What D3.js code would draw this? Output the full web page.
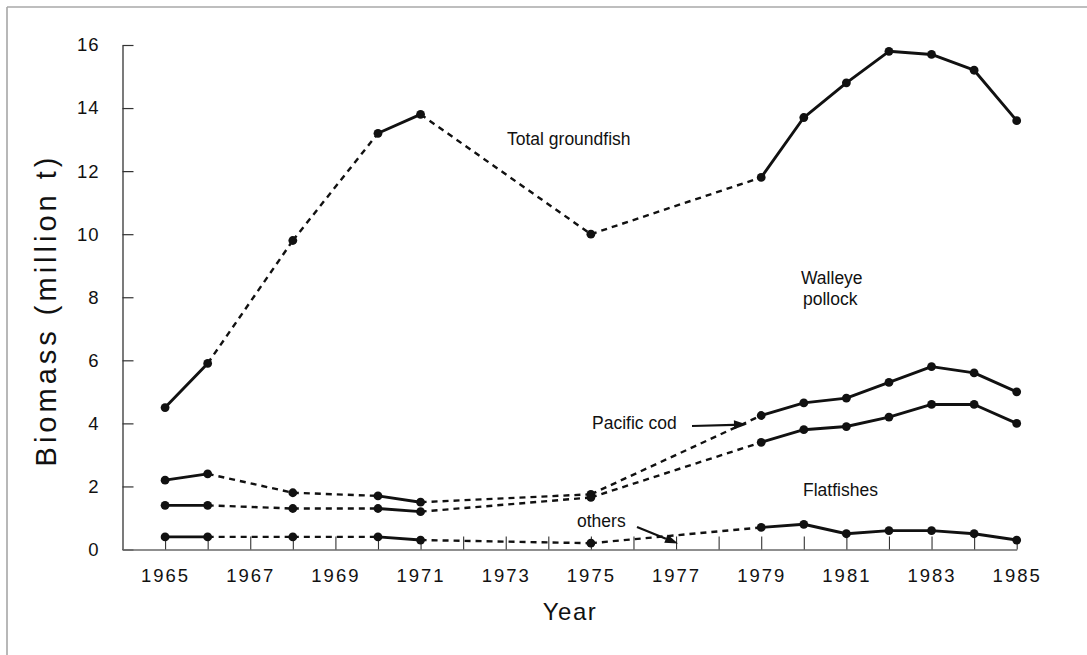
<!DOCTYPE html>
<html>
<head>
<meta charset="utf-8">
<script src="https://cdn.jsdelivr.net/npm/d3@7"></script>
<style>
  html, body { margin: 0; padding: 0; background: #fff; }
  svg { display: block; font-family: "Liberation Sans", Arial, Helvetica, sans-serif; }
</style>
</head>
<body>
<svg id="chart" width="1087" height="655"></svg>
<script>
// Survey years (gaps between non-consecutive years are drawn dashed)
const years = [1965, 1966, 1968, 1970, 1971, 1975, 1979, 1980, 1981, 1982, 1983, 1984, 1985];

// Cumulative biomass boundaries, million t
const totalGroundfish = [4.5, 5.9, 9.8, 13.2, 13.8, 10.0, 11.8, 13.7, 14.8, 15.8, 15.7, 15.2, 13.6];
const codTop          = [2.2, 2.4, 1.8, 1.7, 1.5, 1.75, 4.25, 4.65, 4.8, 5.3, 5.8, 5.6, 5.0];
const flatfishTop     = [1.4, 1.4, 1.3, 1.3, 1.2, 1.65, 3.4, 3.8, 3.9, 4.2, 4.6, 4.6, 4.0];
const othersTop       = [0.4, 0.4, 0.4, 0.4, 0.3, 0.2, 0.7, 0.8, 0.5, 0.6, 0.6, 0.5, 0.3];

const series = [totalGroundfish, codTop, flatfishTop, othersTop];

// Axis ticks
const xTickYears = d3.range(1965, 1986);
const xLabelYears = d3.range(1965, 1986, 2);
const yTicks = [0, 2, 4, 6, 8, 10, 12, 14, 16];

const svg = d3.select("#chart");

const x = d3.scaleLinear().domain([1964, 1985]).range([122.5, 1016.7]);
const y = d3.scaleLinear().domain([0, 16]).range([549.5, 45]);

// Page frame
svg.append("line").attr("x1", 7).attr("y1", 7).attr("x2", 7).attr("y2", 655)
  .attr("stroke", "#a0a0a0").attr("stroke-width", 1.5);
svg.append("line").attr("x1", 7).attr("y1", 7).attr("x2", 1087).attr("y2", 7)
  .attr("stroke", "#a8a8a8").attr("stroke-width", 1.5);

// Y axis
const yAxis = svg.append("g")
  .attr("transform", `translate(${x(1964)},0)`)
  .call(d3.axisLeft(y).tickValues(yTicks).tickSize(-11).tickSizeOuter(0).tickPadding(23)
    .tickFormat(d3.format("d")));
yAxis.select(".domain").attr("stroke", "#333").attr("stroke-width", 1.3);
yAxis.selectAll(".tick line").attr("stroke", "#333").attr("stroke-width", 1.2);
yAxis.selectAll(".tick text").attr("font-size", 18.5).attr("letter-spacing", 1)
  .attr("fill", "#111").attr("font-family", "Liberation Sans, Arial, sans-serif");

// X axis
const xAxis = svg.append("g")
  .attr("transform", `translate(0,${y(0)})`)
  .call(d3.axisBottom(x).tickValues(xTickYears).tickSize(-13).tickSizeOuter(0).tickPadding(19)
    .tickFormat(d => xLabelYears.includes(d) ? String(d) : ""));
xAxis.select(".domain").attr("stroke", "#6a6a6a").attr("stroke-width", 1.5);
xAxis.selectAll(".tick line").attr("stroke", "#333").attr("stroke-width", 1.1);
xAxis.selectAll(".tick text").attr("font-size", 18.5).attr("letter-spacing", 2)
  .attr("fill", "#111").attr("font-family", "Liberation Sans, Arial, sans-serif");

// Axis titles
svg.append("text")
  .attr("x", 570).attr("y", 620)
  .attr("text-anchor", "middle")
  .attr("font-size", 24).attr("letter-spacing", 1.5).attr("fill", "#111")
  .text("Year");

svg.append("text")
  .attr("transform", "translate(56,310) rotate(-90)")
  .attr("text-anchor", "middle")
  .attr("font-size", 29).attr("letter-spacing", 4).attr("fill", "#111")
  .text("Biomass (million t)");

// Lines: solid between consecutive years, dashed across gaps
const plot = svg.append("g");
series.forEach(vals => {
  const pts = years.map((yr, i) => ({ yr, v: vals[i] }));
  d3.pairs(pts).forEach(([a, b]) => {
    const gap = b.yr - a.yr > 1;
    plot.append("path")
      .datum([a, b])
      .attr("d", d3.line().x(d => x(d.yr)).y(d => y(d.v)))
      .attr("fill", "none")
      .attr("stroke", "#111")
      .attr("stroke-width", gap ? 2.4 : 2.9)
      .attr("stroke-dasharray", gap ? "6,5" : null)
      .attr("stroke-linecap", gap ? "butt" : "round");
  });
  plot.selectAll(null)
    .data(pts)
    .join("circle")
    .attr("cx", d => x(d.yr))
    .attr("cy", d => y(d.v))
    .attr("r", 4.4)
    .attr("fill", "#111");
});

// Annotations
const labels = svg.append("g").attr("fill", "#111").attr("font-size", 17.5);
labels.append("text").attr("x", 507).attr("y", 145).text("Total groundfish");
labels.append("text").attr("x", 801).attr("y", 284).text("Walleye");
labels.append("text").attr("x", 803).attr("y", 305).text("pollock");
labels.append("text").attr("x", 592).attr("y", 429).text("Pacific cod");
labels.append("text").attr("x", 803).attr("y", 496).text("Flatfishes");
labels.append("text").attr("x", 577).attr("y", 527).text("others");

// Pointer with a filled triangular head
function pointer(x1, y1, x2, y2) {
  const ang = Math.atan2(y2 - y1, x2 - x1);
  const len = 13, half = 4.5;
  const bx = x2 - len * Math.cos(ang), by = y2 - len * Math.sin(ang);
  const px = -Math.sin(ang) * half, py = Math.cos(ang) * half;
  svg.append("line")
    .attr("x1", x1).attr("y1", y1).attr("x2", bx).attr("y2", by)
    .attr("stroke", "#111").attr("stroke-width", 2.2);
  svg.append("path")
    .attr("d", `M${x2},${y2} L${bx + px},${by + py} L${bx - px},${by - py} Z`)
    .attr("fill", "#111");
}
pointer(692, 426, 747, 424.5);
pointer(637, 527, 678, 543.5);
</script>
</body>
</html>
